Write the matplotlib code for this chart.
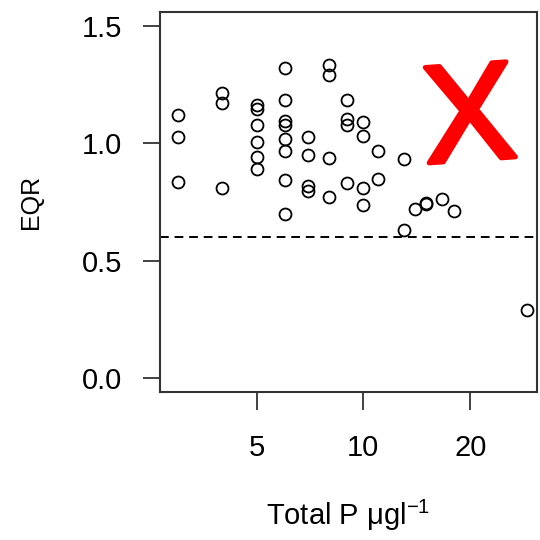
import matplotlib
matplotlib.use("Agg")
import matplotlib.pyplot as plt
import matplotlib.patheffects as pe
from matplotlib.ticker import FixedLocator, NullLocator

plt.rcParams['font.family'] = ['Liberation Sans', 'DejaVu Sans']
plt.rcParams['mathtext.default'] = 'regular'

# Total P (ug/l) and EQR
total_p = [3, 3, 3,
           4, 4, 4,
           5, 5, 5, 5, 5, 5,
           6, 6, 6, 6, 6, 6, 6, 6,
           7, 7, 7, 7,
           8, 8, 8, 8,
           9, 9, 9, 9,
           10, 10, 10, 10,
           11, 11,
           13, 13,
           14, 15, 15, 16.7, 18,
           29]
eqr = [1.12, 1.025, 0.835,
       1.215, 1.17, 0.81,
       1.165, 1.148, 1.076, 1.004, 0.94, 0.89,
       1.322, 1.186, 1.093, 1.076, 1.017, 0.966, 0.843, 0.70,
       1.025, 0.949, 0.818, 0.797,
       1.335, 1.292, 0.936, 0.771,
       1.186, 1.102, 1.076, 0.831,
       1.089, 1.030, 0.809, 0.737,
       0.966, 0.847,
       0.932, 0.631,
       0.72, 0.742, 0.746, 0.763, 0.712,
       0.288]

threshold = 0.6
x_ticks = [5, 10, 20]
y_ticks = [0.0, 0.5, 1.0, 1.5]

fig = plt.figure(figsize=(5.4, 5.4), dpi=100)
ax = fig.add_axes([0.296, 0.274, 0.698, 0.704])

ax.plot(total_p, eqr, 'o', mfc='none', mec='black', ms=8.6, mew=1.3)
ax.axhline(threshold, color='black', lw=1.4, ls=(0, (4.5, 3)))

ax.set_xscale('log')
ax.set_xlim(2.67, 30.8)
ax.set_ylim(-0.06, 1.56)
ax.xaxis.set_major_locator(FixedLocator(x_ticks))
ax.xaxis.set_minor_locator(NullLocator())
ax.set_xticklabels([str(t) for t in x_ticks])
ax.set_yticks(y_ticks)
ax.set_yticklabels(['%.1f' % t for t in y_ticks])

for s in ax.spines.values():
    s.set_linewidth(1.5)
    s.set_color('#333333')
ax.tick_params(axis='x', length=13, width=1.3, pad=17, labelsize=21, color='#333333')
ax.tick_params(axis='y', length=12, width=1.3, pad=15, labelsize=21, color='#333333')

ax.set_xlabel('Total P μgl$^{-1}$', fontsize=21, labelpad=26)
ax.set_ylabel('EQR', fontsize=18, labelpad=28)

# red cross over the plot
ax.text(0.822, 0.705, 'X', transform=ax.transAxes, color='red', fontsize=100,
        ha='center', va='center', rotation=4,
        path_effects=[pe.withStroke(linewidth=3.5, foreground='red')])

fig.savefig('out.png', dpi=100)
